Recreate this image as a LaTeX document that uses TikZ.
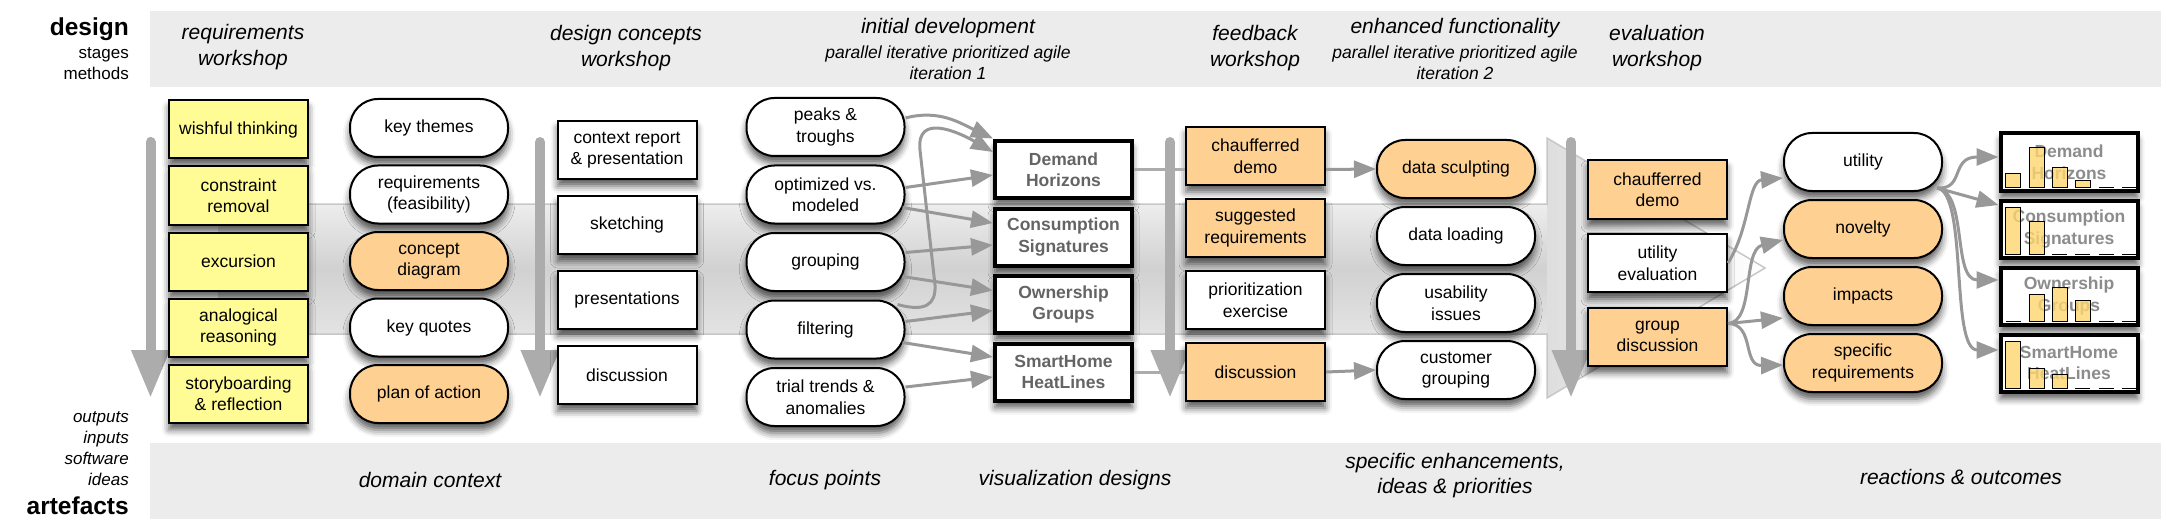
\documentclass[tikz,border=0pt]{standalone}
\usepackage{fontspec}
\setmainfont{Liberation Sans}
\usetikzlibrary{positioning, calc, arrows.meta, shadows.blur}

\definecolor{padyellow}{RGB}{255,252,150}
\definecolor{peach}{RGB}{254,208,146}
\definecolor{bargold}{RGB}{255,214,110}
\definecolor{bandgray}{RGB}{236,236,236}
\definecolor{flowgray}{RGB}{152,152,152}
\definecolor{stagegray}{RGB}{172,172,172}
\definecolor{vistext}{RGB}{100,100,100}
\definecolor{charttext}{RGB}{140,140,140}

\newcommand{\nodefont}{\fontsize{17.5}{21.5}\selectfont}
\newcommand{\headfont}{\fontsize{21}{25.5}\selectfont\itshape}
\newcommand{\subfont}{\fontsize{17.5}{21}\selectfont\itshape}
\newcommand{\sidefont}{\fontsize{17}{21}\selectfont}
\newcommand{\bigfont}{\fontsize{24.5}{28}\selectfont\bfseries}

% little bar charts in the outcome boxes
\newcommand{\chartbars}[2]{%
  \foreach \h [count=\i from 0] in {#2} {
    \ifdim\h pt=0pt
      \draw[line width=1pt] ($(#1.south west)+(7.2+23.2*\i,-5.5)$) -- ++(15,0);
    \else
      \draw[chartbar] ($(#1.south west)+(7.2+23.2*\i,-5.5)$) rectangle ++(15,-\h);
    \fi
  }}

\tikzset{
  box/.style={draw=black, line width=2pt, minimum width=139pt, minimum height=58pt,
    inner sep=2pt, align=center, font=\nodefont,
    blur shadow={shadow xshift=0pt, shadow yshift=-7pt, shadow blur radius=7pt, shadow opacity=65}},
  wishbox/.style={box, fill=padyellow},
  whitebox/.style={box, fill=white},
  peachbox/.style={box, fill=peach},
  pill/.style={box, rounded corners=28pt, minimum width=158pt},
  whitepill/.style={pill, fill=white},
  peachpill/.style={pill, fill=peach},
  visbox/.style={box, fill=white, line width=4pt, minimum width=137pt, minimum height=57pt,
    font=\nodefont\bfseries, text=vistext},
  chartbox/.style={visbox, text=charttext},
  chartbar/.style={draw=black, line width=0.8pt, fill=bargold, fill opacity=0.8},
  flow/.style={draw=flowgray, line width=3pt, -{Triangle[length=22pt, width=17pt]}},
  link/.style={draw=stagegray, line width=3pt},
  stagearrow/.style={draw=stagegray, line width=10pt, line cap=round, -{Triangle[length=48pt, width=36pt]}},
  stagehead/.style={font=\headfont, align=center},
  stagesub/.style={font=\subfont, align=center},
  side/.style={anchor=east, align=right, inner sep=0pt}
}

\begin{document}
\begin{tikzpicture}[x=1pt, y=-1pt]
  \useasboundingbox (0,0) rectangle (2166,524);

  % grey bands top and bottom
  \fill[bandgray] (150,11) rectangle (2161,87);
  \fill[bandgray] (150,443) rectangle (2161,519);

  % the broad flow arrow behind everything
  \shade[top color=black!7, bottom color=black!11, middle color=black!18] (218,204) rectangle (1547,334);
  \shade[left color=black!13, right color=white] (1547,138) -- (1765,268) -- (1547,398) -- cycle;
  \draw[black!22, line width=1.5pt] (218,204) -- (1547,204) -- (1547,138) -- (1765,268)
    -- (1547,398) -- (1547,334) -- (218,334);

  % stage arrows
  \foreach \x in {150.5,540,1170,1571}
    \draw[stagearrow] (\x,142) -- (\x,398);

  % side labels
  \node[side, font=\bigfont] (ldesign) at (129,29) {design};
  \node[side, font=\sidefont] (lstages) at (129,63.5) {stages\\methods};
  \node[side, font=\sidefont\itshape] (linputs) at (129,448.5) {outputs\\inputs\\software\\ideas};
  \node[side, font=\bigfont] (lartef) at (129,506) {artefacts};

  % stage headings
  \node[stagehead] (hreq) at (243,47) {requirements\\workshop};
  \node[stagehead] (hdes) at (626,48) {design concepts\\workshop};
  \node[stagehead] (hinit) at (948,28) {initial development};
  \node[stagesub] (hinitsub) at (948,62.5) {parallel iterative prioritized agile\\iteration 1};
  \node[stagehead] (hfeed) at (1255,48) {feedback\\workshop};
  \node[stagehead] (henh) at (1455,28) {enhanced functionality};
  \node[stagesub] (henhsub) at (1455,62.5) {parallel iterative prioritized agile\\iteration 2};
  \node[stagehead] (heval) at (1657,48) {evaluation\\workshop};

  % artefact headings
  \node[stagehead] (adomain) at (430,480) {domain context};
  \node[stagehead] (afocus) at (825,480) {focus points};
  \node[stagehead] (avis) at (1075,480) {visualization designs};
  \node[stagehead] (aspec) at (1455,475.5) {specific enhancements,\\ideas \& priorities};
  \node[stagehead] (areact) at (1961,477) {reactions \& outcomes};

  % requirements workshop
  \node[wishbox] (wish) at (238.5,129.5) {wishful thinking};
  \node[wishbox, below=6pt of wish] (constr) {constraint\\removal};
  \node[wishbox, below=6pt of constr] (excur) {excursion};
  \node[wishbox, below=6pt of excur] (analog) {analogical\\reasoning};
  \node[wishbox, below=6pt of analog] (story) {storyboarding\\\& reflection};

  \node[whitepill] (themes) at (429,128) {key themes};
  \node[whitepill, below=6.5pt of themes] (feas) {requirements\\(feasibility)};
  \node[peachpill, below=6.5pt of feas] (concept) {concept\\diagram};
  \node[whitepill, below=6.5pt of concept] (quotes) {key quotes};
  \node[peachpill, below=6.5pt of quotes] (plan) {plan of action};

  % design concepts workshop
  \node[whitebox] (report) at (627,150) {context report\\\& presentation};
  \node[whitebox, below=15pt of report] (sketch) {sketching};
  \node[whitebox, below=15pt of sketch] (present) {presentations};
  \node[whitebox, below=15pt of present] (discuss) {discussion};

  % initial development
  \node[whitepill] (peaks) at (825.5,127) {peaks \&\\troughs};
  \node[whitepill, below=7.5pt of peaks] (optim) {optimized vs.\\modeled};
  \node[whitepill, below=7.5pt of optim] (group) {grouping};
  \node[whitepill, below=7.5pt of group] (filter) {filtering};
  \node[whitepill, below=7.5pt of filter] (trial) {trial trends \&\\anomalies};

  \node[visbox] (demand) at (1063.5,169.5) {Demand\\Horizons};
  \node[visbox, below=6.5pt of demand] (consum) {Consumption\\Signatures};
  \node[visbox, below=6.5pt of consum] (owner) {Ownership\\Groups};
  \node[visbox, below=6.5pt of owner] (smart) {SmartHome\\HeatLines};

  % feedback workshop
  \node[peachbox] (chauf) at (1255.5,156) {chaufferred\\demo};
  \node[peachbox, below=12pt of chauf] (suggest) {suggested\\requirements};
  \node[whitebox, below=12pt of suggest] (prior) {prioritization\\exercise};
  \node[peachbox, below=12pt of prior] (fbdisc) {discussion};

  % enhanced functionality
  \node[peachpill] (sculpt) at (1456,169) {data sculpting};
  \node[whitepill, below=7pt of sculpt] (loading) {data loading};
  \node[whitepill, below=7pt of loading] (usab) {usability\\issues};
  \node[whitepill, below=7pt of usab] (custgrp) {customer\\grouping};

  % evaluation workshop
  \node[peachbox] (evdemo) at (1657.5,189.5) {chaufferred\\demo};
  \node[whitebox, below=13.5pt of evdemo] (utileval) {utility\\evaluation};
  \node[peachbox, below=13.5pt of utileval] (grpdisc) {group\\discussion};

  \node[whitepill] (utility) at (1863,162) {utility};
  \node[peachpill, below=7pt of utility] (novelty) {novelty};
  \node[peachpill, below=7pt of novelty] (impacts) {impacts};
  \node[peachpill, below=7pt of impacts] (specreq) {specific\\requirements};

  \node[chartbox] (chdemand) at (2069,162) {Demand\\Horizons};
  \node[chartbox, below=6pt of chdemand] (chconsum) {Consumption\\Signatures};
  \node[chartbox, below=6pt of chconsum] (chowner) {Ownership\\Groups};
  \node[chartbox, below=6pt of chowner] (chsmart) {SmartHome\\HeatLines};

  \chartbars{chdemand}{14,40,20,7,0,0}
  \chartbars{chconsum}{47,33,0,0,0,0}
  \chartbars{chowner}{0,27,34,21,0,0}
  \chartbars{chsmart}{47,20,14,0,0,0}

  % focus points feed the designs
  \draw[flow] ($(peaks.east)+(0,-9)$) to[out=15, in=155] ($(demand.west)+(0,-31)$);
  \draw[flow] ($(filter.east)+(-8,-25)$) .. controls (925,312) and (936,305) .. (935,285)
    -- (920,150) .. controls (916,112) and (960,133) .. ($(demand.west)+(0,-17.5)$);
  \draw[flow] ($(optim.east)+(0,-7)$) -- ($(demand.west)+(0,5.5)$);
  \draw[flow] ($(optim.east)+(-3,13)$) -- ($(consum.west)+(0,-14)$);
  \draw[flow] ($(group.east)+(0,-9.5)$) -- ($(consum.west)+(0,8)$);
  \draw[flow] ($(group.east)+(-3,14.5)$) -- ($(owner.west)+(0,-14)$);
  \draw[flow] ($(filter.east)+(0,-8)$) -- ($(owner.west)+(0,6)$);
  \draw[flow] ($(filter.east)+(-3,13)$) -- ($(smart.west)+(0,-15)$);
  \draw[flow] ($(trial.east)+(0,-10)$) -- ($(smart.west)+(0,5)$);

  % designs into the feedback stage
  \draw[link] (demand.east) -- (demand.east -| chauf.west);
  \draw[flow] (demand.east -| chauf.east) -- (sculpt.west);
  \draw[link] (smart.east) -- (smart.east -| fbdisc.west);
  \draw[flow] (smart.east -| fbdisc.east) -- (custgrp.west);

  % evaluation to reactions
  \draw[flow] (utileval.east) .. controls +(22,-35) and +(-35,3) .. ($(utility.west)+(0,16)$);
  \draw[flow] ($(grpdisc.east)+(0,-13)$) .. controls (1755,322) and (1742,250) .. ($(novelty.west)+(0,11)$);
  \draw[flow] ($(grpdisc.east)+(0,-13)$) -- ($(impacts.west)+(0,22)$);
  \draw[flow] ($(grpdisc.east)+(0,-13)$) .. controls (1755,324) and (1742,366) .. ($(specreq.west)+(0,2)$);

  % utility to the charts
  \draw[flow] ($(utility.east)+(-6,26)$) .. controls (1965,190) and (1950,157) .. ($(chdemand.west)+(0,-5)$);
  \draw[flow] ($(utility.east)+(-6,26)$) -- ($(chconsum.west)+(0,-24)$);
  \draw[flow] ($(utility.east)+(-6,26)$) .. controls (1968,192) and (1952,280) .. ($(chowner.west)+(0,-16)$);
  \draw[flow] ($(utility.east)+(-6,26)$) .. controls (1968,192) and (1950,350) .. ($(chsmart.west)+(0,-13)$);
\end{tikzpicture}
\end{document}
